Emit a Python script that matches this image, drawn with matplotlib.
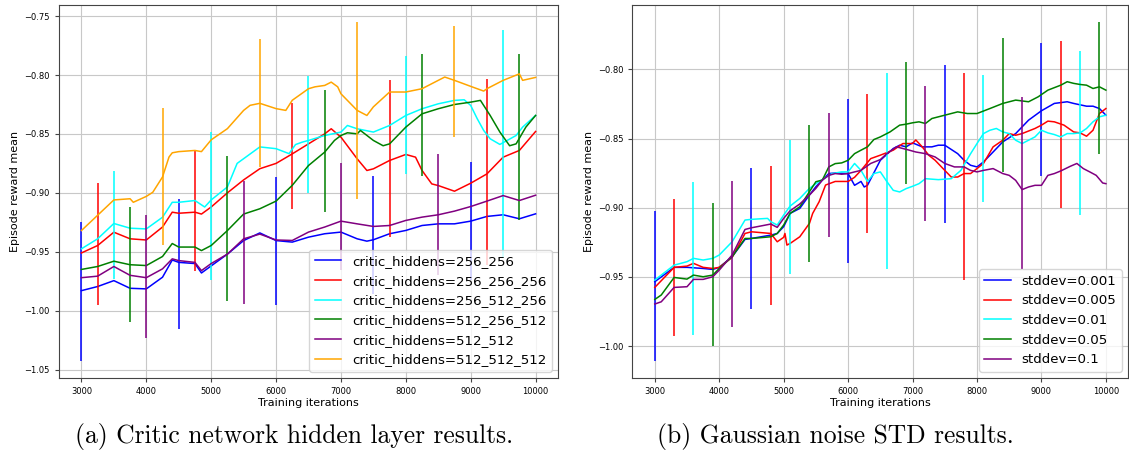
import matplotlib
matplotlib.use("Agg")
import matplotlib.pyplot as plt
import numpy as np

# ---- (a) critic hidden layers
a_labels = ["critic_hiddens=256_256", "critic_hiddens=256_256_256",
            "critic_hiddens=256_512_256", "critic_hiddens=512_256_512",
            "critic_hiddens=512_512", "critic_hiddens=512_512_512"]
a_colors = ["blue", "red", "cyan", "green", "purple", "orange"]

a256_256_it = [3000, 3250, 3500, 3750, 4000, 4250, 4400, 4500, 4750, 4850, 5000, 5250, 5500, 5750, 6000, 6250,
               6500, 6750, 7000, 7250, 7400, 7500, 7750, 8000, 8250, 8500, 8750, 9000, 9250, 9500, 9750, 10000]
a256_256_val = [-0.983, -0.9795, -0.9745, -0.981, -0.9815, -0.9716, -0.957, -0.959, -0.960, -0.968, -0.962, -0.952,
                -0.9405, -0.934, -0.9405, -0.9418, -0.9376, -0.9347, -0.9333, -0.939, -0.941, -0.9398, -0.9347,
                -0.9319, -0.9277, -0.9263, -0.9263, -0.924, -0.920, -0.9186, -0.922, -0.9178]

a256_256_256_it = [3000, 3250, 3500, 3750, 4000, 4250, 4400, 4500, 4750, 4850, 5000, 5250, 5500, 5750, 6000, 6250,
                   6500, 6750, 6850, 7000, 7250, 7400, 7500, 7750, 8000, 8150, 8250, 8400, 8500, 8750, 9000, 9250,
                   9500, 9750, 10000]
a256_256_256_val = [-0.951, -0.9447, -0.9334, -0.939, -0.940, -0.929, -0.9164, -0.9173, -0.9164, -0.918, -0.912,
                    -0.900, -0.889, -0.8795, -0.875, -0.8669, -0.8584, -0.8499, -0.8456, -0.8527, -0.8711, -0.881,
                    -0.8796, -0.8725, -0.8674, -0.8697, -0.881, -0.8924, -0.8938, -0.8986, -0.8918, -0.8839,
                    -0.8697, -0.864, -0.8479]

a256_512_256_it = [3000, 3250, 3500, 3750, 4000, 4250, 4400, 4500, 4750, 4900, 5000, 5250, 5400, 5500, 5750, 6000,
                   6200, 6300, 6400, 6500, 6750, 7000, 7100, 7250, 7500, 7750, 8000, 8250, 8500, 8750, 8900, 9000,
                   9100, 9200, 9300, 9450, 9700, 9800, 10000]
a256_512_256_val = [-0.9475, -0.939, -0.926, -0.930, -0.9306, -0.9207, -0.908, -0.908, -0.9065, -0.912, -0.906,
                    -0.895, -0.875, -0.871, -0.861, -0.8625, -0.8667, -0.859, -0.857, -0.8555, -0.8513, -0.8484,
                    -0.8428, -0.8456, -0.8484, -0.8428, -0.8343, -0.8286, -0.8244, -0.8215, -0.821, -0.8258,
                    -0.837, -0.847, -0.8541, -0.8589, -0.8513, -0.8442, -0.8343]

a512_256_512_it = [3000, 3250, 3500, 3750, 4000, 4250, 4400, 4500, 4750, 4850, 5000, 5250, 5500, 5750, 6000, 6250,
                   6500, 6750, 6900, 7000, 7100, 7250, 7300, 7500, 7650, 7750, 8000, 8250, 8500, 8750, 9000, 9150,
                   9300, 9450, 9600, 9700, 9850, 10000]
a512_256_512_val = [-0.965, -0.9625, -0.958, -0.961, -0.9617, -0.954, -0.943, -0.946, -0.946, -0.949, -0.9447,
                    -0.932, -0.918, -0.9135, -0.907, -0.8936, -0.8768, -0.8654, -0.8555, -0.8513, -0.849, -0.8499,
                    -0.847, -0.8555, -0.860, -0.8584, -0.8442, -0.8329, -0.8286, -0.825, -0.823, -0.8215, -0.8343,
                    -0.8484, -0.860, -0.8584, -0.8442, -0.8343]

a512_512_it = [3000, 3250, 3500, 3750, 4000, 4250, 4400, 4500, 4750, 4850, 5000, 5250, 5500, 5750, 6000, 6250,
               6500, 6750, 7000, 7250, 7500, 7750, 8000, 8250, 8500, 8750, 9000, 9250, 9500, 9750, 10000]
a512_512_val = [-0.972, -0.9707, -0.9625, -0.970, -0.972, -0.9645, -0.956, -0.9575, -0.959, -0.966, -0.960, -0.952,
                -0.939, -0.935, -0.940, -0.9404, -0.9333, -0.929, -0.924, -0.9263, -0.9285, -0.9277, -0.9234,
                -0.9206, -0.9186, -0.9155, -0.9116, -0.907, -0.9023, -0.9065, -0.902]

a512_512_512_it = [3000, 3250, 3500, 3750, 3800, 4000, 4100, 4250, 4350, 4400, 4500, 4750, 4850, 5000, 5250, 5500,
                   5600, 5750, 6000, 6150, 6250, 6500, 6600, 6750, 6850, 6950, 7000, 7250, 7400, 7500, 7750, 8000,
                   8250, 8500, 8600, 8750, 9000, 9200, 9250, 9500, 9750, 9800, 10000]
a512_512_512_val = [-0.932, -0.919, -0.906, -0.905, -0.908, -0.903, -0.8995, -0.8865, -0.8696, -0.866, -0.865,
                    -0.864, -0.865, -0.855, -0.8455, -0.830, -0.8257, -0.824, -0.8285, -0.830, -0.8214, -0.8116,
                    -0.810, -0.8088, -0.806, -0.810, -0.8159, -0.830, -0.8343, -0.827, -0.8144, -0.8144, -0.8116,
                    -0.8045, -0.8017, -0.8045, -0.8096, -0.8136, -0.8116, -0.8045, -0.799, -0.8045, -0.802]

# error bars: iteration, centre, half width
a_err_it = [[3000, 4500, 6000, 7500, 9000], [3250, 4750, 6250, 7750, 9250], [3500, 5000, 6500, 8000, 9500],
            [3750, 5250, 6750, 8250, 9750], [4000, 5500, 7000, 8500], [4250, 5750, 7250, 8750]]
a_err_mid = [[-0.984, -0.9605, -0.9408, -0.9358, -0.924], [-0.9433, -0.9155, -0.869, -0.871, -0.8826],
             [-0.9273, -0.911, -0.8507, -0.8336, -0.8584], [-0.9607, -0.9303, -0.8643, -0.834, -0.8529],
             [-0.9709, -0.9421, -0.920, -0.9185], [-0.8859, -0.8235, -0.830, -0.8056]]
a_err_half = [[0.059, 0.055, 0.054, 0.050, 0.050], [0.0515, 0.051, 0.045, 0.0668, 0.079],
              [0.0457, 0.0626, 0.0496, 0.050, 0.097], [0.049, 0.0617, 0.052, 0.0515, 0.0705],
              [0.0525, 0.052, 0.0456, 0.0516], [0.058, 0.0545, 0.075, 0.047]]

# ---- (b) gaussian noise std
b_labels = ["stddev=0.001", "stddev=0.005", "stddev=0.01", "stddev=0.05", "stddev=0.1"]
b_colors = ["blue", "red", "cyan", "green", "purple"]

b0001_it = [3000, 3300, 3500, 3750, 3900, 4000, 4200, 4400, 4500, 4800, 4900, 5000, 5100, 5250, 5400, 5500, 5700,
            5800, 6000, 6100, 6200, 6250, 6300, 6500, 6700, 6800, 6900, 7000, 7150, 7300, 7400, 7500, 7700, 7800,
            7900, 8000, 8100, 8250, 8400, 8600, 8800, 9000, 9200, 9400, 9500, 9700, 9800, 9900, 10000]
b0001_val = [-0.9535, -0.9431, -0.9431, -0.9439, -0.9446, -0.9431, -0.9354, -0.9229, -0.9222, -0.9198, -0.9186,
             -0.9137, -0.9041, -0.9005, -0.8908, -0.8848, -0.8753, -0.8749, -0.8753, -0.8838, -0.881, -0.885,
             -0.8838, -0.8657, -0.8572, -0.8548, -0.856, -0.8531, -0.856, -0.856, -0.8548, -0.8548, -0.8609,
             -0.8657, -0.8693, -0.8705, -0.8669, -0.8597, -0.8524, -0.8464, -0.8367, -0.8299, -0.8246, -0.8234,
             -0.8246, -0.8266, -0.8266, -0.8283, -0.8331]

b0005_it = [3000, 3300, 3500, 3600, 3750, 3900, 4000, 4200, 4400, 4500, 4800, 4900, 5000, 5020, 5050, 5100, 5250,
            5400, 5450, 5550, 5650, 5800, 6000, 6100, 6200, 6350, 6500, 6700, 6850, 7000, 7050, 7150, 7250, 7350,
            7500, 7600, 7700, 7800, 7900, 8000, 8100, 8250, 8400, 8500, 8600, 8700, 8900, 9000, 9100, 9200, 9350,
            9500, 9600, 9700, 9800, 9900, 10000]
b0005_val = [-0.9576, -0.9431, -0.9422, -0.9402, -0.9431, -0.9439, -0.9431, -0.9359, -0.9186, -0.9174, -0.9186,
             -0.9246, -0.9214, -0.9186, -0.927, -0.9258, -0.921, -0.9113, -0.9041, -0.8957, -0.8836, -0.881,
             -0.881, -0.878, -0.873, -0.8645, -0.862, -0.8584, -0.8536, -0.8536, -0.851, -0.856, -0.862, -0.8657,
             -0.873, -0.8778, -0.8778, -0.8753, -0.8753, -0.8717, -0.868, -0.856, -0.8512, -0.8464, -0.8476,
             -0.8464, -0.8427, -0.8403, -0.8374, -0.8379, -0.8403, -0.8452, -0.8459, -0.8483, -0.844, -0.8319,
             -0.8283]

b001_it = [3000, 3300, 3500, 3600, 3750, 3900, 4000, 4200, 4400, 4500, 4750, 4800, 4900, 5000, 5100, 5250, 5400,
           5500, 5750, 5900, 6000, 6100, 6200, 6300, 6400, 6500, 6600, 6700, 6800, 6900, 7000, 7100, 7200, 7400,
           7600, 7750, 7900, 8000, 8100, 8200, 8300, 8400, 8500, 8600, 8700, 8800, 8900, 9000, 9100, 9200, 9300,
           9400, 9500, 9600, 9700, 9800, 9900, 10000]
b001_val = [-0.9523, -0.9415, -0.939, -0.9366, -0.9378, -0.9366, -0.9342, -0.9246, -0.9089, -0.9084, -0.9077,
            -0.9101, -0.9125, -0.9053, -0.8988, -0.8933, -0.886, -0.8826, -0.8753, -0.8741, -0.8741, -0.868,
            -0.873, -0.881, -0.8753, -0.8741, -0.881, -0.8874, -0.8886, -0.8862, -0.8845, -0.8826, -0.879,
            -0.8797, -0.879, -0.873, -0.861, -0.8536, -0.8464, -0.844, -0.8427, -0.8452, -0.8464, -0.8512,
            -0.8536, -0.8512, -0.8488, -0.844, -0.8459, -0.8471, -0.8488, -0.8464, -0.8464, -0.8459, -0.8427,
            -0.8379, -0.8343, -0.8331]

b005_it = [3000, 3100, 3300, 3500, 3600, 3750, 3900, 4000, 4200, 4400, 4500, 4800, 4900, 5000, 5100, 5250, 5400,
           5500, 5600, 5700, 5800, 5900, 6000, 6100, 6200, 6300, 6400, 6500, 6650, 6800, 6900, 7000, 7100, 7200,
           7300, 7500, 7700, 7850, 8000, 8200, 8400, 8600, 8800, 8950, 9100, 9300, 9400, 9500, 9600, 9700, 9800,
           9900, 10000]
b005_val = [-0.9663, -0.9631, -0.9504, -0.9516, -0.9487, -0.9499, -0.9487, -0.9439, -0.9354, -0.9222, -0.9222,
            -0.921, -0.9186, -0.9125, -0.9041, -0.8993, -0.8884, -0.8812, -0.880, -0.8705, -0.8681, -0.8676,
            -0.8657, -0.8609, -0.8584, -0.856, -0.8507, -0.8488, -0.8452, -0.8403, -0.8396, -0.8386, -0.8379,
            -0.8391, -0.8355, -0.8331, -0.8307, -0.8319, -0.8319, -0.8283, -0.8246, -0.8222, -0.8234, -0.8198,
            -0.815, -0.8114, -0.8089, -0.8101, -0.8109, -0.8114, -0.8138, -0.8126, -0.815]

b01_it = [3000, 3100, 3300, 3500, 3600, 3750, 3900, 4000, 4200, 4400, 4500, 4800, 4900, 5000, 5100, 5250, 5400,
          5500, 5600, 5700, 5800, 5900, 6000, 6100, 6200, 6350, 6500, 6600, 6750, 6850, 6950, 7050, 7200, 7350,
          7500, 7650, 7800, 7900, 8000, 8100, 8250, 8400, 8500, 8600, 8700, 8800, 8900, 9000, 9100, 9200, 9300,
          9450, 9550, 9650, 9750, 9850, 9950, 10000]
b01_val = [-0.9696, -0.968, -0.9576, -0.9571, -0.9518, -0.9518, -0.9499, -0.9451, -0.9342, -0.9157, -0.9145,
           -0.9118, -0.9142, -0.9077, -0.9022, -0.8973, -0.8908, -0.886, -0.880, -0.8766, -0.8753, -0.8758,
           -0.8753, -0.8741, -0.873, -0.868, -0.8652, -0.8609, -0.856, -0.8572, -0.8584, -0.8597, -0.8609,
           -0.8633, -0.868, -0.8705, -0.8705, -0.873, -0.8741, -0.873, -0.8717, -0.8753, -0.8766, -0.8802,
           -0.8869, -0.885, -0.8838, -0.8838, -0.8766, -0.8753, -0.8734, -0.870, -0.868, -0.8717, -0.8741,
           -0.8766, -0.8821, -0.8826]

b_err_it = [[3000, 4500, 6000, 7500, 9000], [3300, 4800, 6300, 7800, 9300], [3600, 5100, 6600, 8100, 9600],
            [3900, 5400, 6900, 8400, 9900], [4200, 5700, 7200, 8700]]
b_err_mid = [[-0.9565, -0.9222, -0.8809, -0.854, -0.8289], [-0.943, -0.920, -0.8678, -0.8776, -0.840],
             [-0.937, -0.8996, -0.8736, -0.850, -0.846], [-0.9485, -0.8899, -0.839, -0.8256, -0.8135],
             [-0.9334, -0.8764, -0.8607, -0.8822]]
b_err_half = [[0.054, 0.051, 0.0594, 0.0569, 0.048], [0.0496, 0.050, 0.0503, 0.075, 0.0605],
              [0.0553, 0.0484, 0.0707, 0.046, 0.0593], [0.0516, 0.0496, 0.044, 0.0485, 0.048],
              [0.053, 0.045, 0.0487, 0.0624]]

a_series = [(a256_256_it, a256_256_val), (a256_256_256_it, a256_256_256_val), (a256_512_256_it, a256_512_256_val),
            (a512_256_512_it, a512_256_512_val), (a512_512_it, a512_512_val), (a512_512_512_it, a512_512_512_val)]
b_series = [(b0001_it, b0001_val), (b0005_it, b0005_val), (b001_it, b001_val),
            (b005_it, b005_val), (b01_it, b01_val)]

fig = plt.figure(figsize=(11.29, 4.61), dpi=100)
ax1 = fig.add_axes([0.052, 0.1794, 0.4425, 0.8096])
ax2 = fig.add_axes([0.560, 0.1794, 0.4395, 0.8096])


def draw(ax, series, labels, colors, err_it, err_mid, err_half):
    for (it, val), lab, c, ex, em, eh in zip(series, labels, colors, err_it, err_mid, err_half):
        ax.plot(it, val, color=c, lw=1.1, label=lab)
        ax.errorbar(ex, em, yerr=eh, fmt="none", ecolor=c, elinewidth=1.1)
    ax.grid(True, color="#c8c8c8", lw=0.8)
    ax.set_axisbelow(True)
    ax.tick_params(labelsize=6, length=3, color="#444444")
    for s in ax.spines.values():
        s.set_color("#444444")
    ax.set_xlabel("Training iterations", fontsize=8, labelpad=1)
    ax.set_ylabel("Episode reward mean", fontsize=8, labelpad=3)
    ax.set_xlim(2650, 10350)
    ax.set_xticks(np.arange(3000, 10001, 1000))
    ax.legend(loc="lower right", fontsize=9.6, handlelength=2.0, borderaxespad=0.5)


draw(ax1, a_series, a_labels, a_colors, a_err_it, a_err_mid, a_err_half)
ax1.set_ylim(-1.0574, -0.7406)
ax1.set_yticks(np.arange(-1.05, -0.749, 0.05))

draw(ax2, b_series, b_labels, b_colors, b_err_it, b_err_mid, b_err_half)
ax2.set_ylim(-1.0233, -0.7535)
ax2.set_yticks(np.arange(-1.00, -0.799, 0.05))

fig.text(294 / 1129, 1 - 436 / 461, "(a) Critic network hidden layer results.",
         family="cmr10", fontsize=18.4, ha="center", va="center")
fig.text(835 / 1129, 1 - 436 / 461, "(b) Gaussian noise STD results.",
         family="cmr10", fontsize=18.4, ha="center", va="center")

fig.savefig("out.png", dpi=100)
